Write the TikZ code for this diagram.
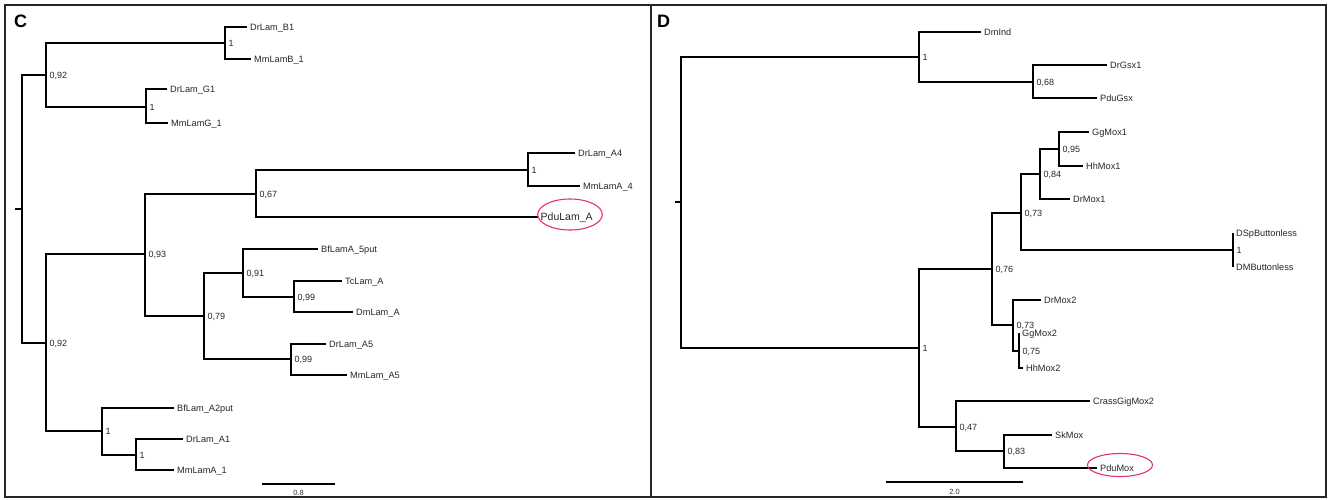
\documentclass[tikz,border=0pt]{standalone}
\usepackage{fontspec}
\setmainfont{Liberation Sans}
\definecolor{hilitecol}{RGB}{228,48,122}
\tikzset{
  branch/.style={line width=2.9pt, line join=miter, black},
  leaf/.style={anchor=west, inner xsep=3pt, inner ysep=0pt, text height=6.4pt, text depth=0pt,
               font=\fontsize{9.2}{10}\selectfont, text=black!85},
  supp/.style={anchor=west, inner xsep=3.4pt, inner ysep=0pt, text height=6.4pt, text depth=0pt,
               font=\fontsize{9}{10}\selectfont, text=black!85},
  frame/.style={line width=1.5pt, black!85},
  panel/.style={anchor=base west, inner sep=0pt, font=\fontsize{18}{20}\selectfont\bfseries},
  hilite/.style={draw=hilitecol, line width=1.1pt},
  scalebar/.style={line width=2.5pt, black},
  scalelab/.style={inner sep=0pt, font=\fontsize{7.5}{8}\selectfont, text=black!80}
}
\begin{document}
\begin{tikzpicture}[x=1pt,y=-1pt]
\useasboundingbox (0,0) rectangle (1333,499);

% panel frames and letters
\draw[frame] (5,5) rectangle (651,497);
\draw[frame] (651,5) rectangle (1326,497);
\node[panel] (labC) at (14,27.5) {C};
\node[panel] (labD) at (657,27.5) {D};

% ---------------- panel C: lamin tree ----------------
\coordinate (cR)  at (22,209);
\coordinate (cRt) at (15,209);
\coordinate (cA)  at (46,75);
\coordinate (cB)  at (225,43);
\coordinate (cG)  at (146,107);
\coordinate (cK)  at (46,343);
\coordinate (cL)  at (145,254);
\coordinate (cM)  at (256,194);
\coordinate (cN)  at (528,170);
\coordinate (cO)  at (204,316);
\coordinate (cP)  at (243,273);
\coordinate (cQ)  at (294,297);
\coordinate (cS)  at (291,359);
\coordinate (cT)  at (102,431);
\coordinate (cU)  at (136,455);

\node[leaf] (drB1)  at (247,27)  {DrLam\_B1};
\node[leaf] (mmB1)  at (251,59)  {MmLamB\_1};
\node[leaf] (drG1)  at (167,89)  {DrLam\_G1};
\node[leaf] (mmG1)  at (168,123) {MmLamG\_1};
\node[leaf] (drA4)  at (575,153) {DrLam\_A4};
\node[leaf] (mmA4)  at (580,186) {MmLamA\_4};
\node[leaf, inner xsep=2.5pt, font=\fontsize{10.5}{12}\selectfont, text height=7.5pt] (pduA) at (538,217) {PduLam\_A};
\node[leaf] (bfA5)  at (318,249) {BfLamA\_5put};
\node[leaf] (tcA)   at (342,281) {TcLam\_A};
\node[leaf] (dmA)   at (353,312) {DmLam\_A};
\node[leaf] (drA5)  at (326,344) {DrLam\_A5};
\node[leaf] (mmA5)  at (347,375) {MmLam\_A5};
\node[leaf] (bfA2)  at (174,408) {BfLam\_A2put};
\node[leaf] (drA1)  at (183,439) {DrLam\_A1};
\node[leaf] (mmA1)  at (174,470) {MmLamA\_1};

\draw[branch] (cR) -- (cRt);
\draw[branch] (cR) |- (cA);
\draw[branch] (cR) |- (cK);
\draw[branch] (cA) |- (cB);
\draw[branch] (cA) |- (cG);
\draw[branch] (cB) |- (drB1.west);
\draw[branch] (cB) |- (mmB1.west);
\draw[branch] (cG) |- (drG1.west);
\draw[branch] (cG) |- (mmG1.west);
\draw[branch] (cK) |- (cL);
\draw[branch] (cK) |- (cT);
\draw[branch] (cL) |- (cM);
\draw[branch] (cL) |- (cO);
\draw[branch] (cM) |- (cN);
\draw[branch] (cM) |- (pduA.west);
\draw[branch] (cN) |- (drA4.west);
\draw[branch] (cN) |- (mmA4.west);
\draw[branch] (cO) |- (cP);
\draw[branch] (cO) |- (cS);
\draw[branch] (cP) |- (bfA5.west);
\draw[branch] (cP) |- (cQ);
\draw[branch] (cQ) |- (tcA.west);
\draw[branch] (cQ) |- (dmA.west);
\draw[branch] (cS) |- (drA5.west);
\draw[branch] (cS) |- (mmA5.west);
\draw[branch] (cT) |- (bfA2.west);
\draw[branch] (cT) |- (cU);
\draw[branch] (cU) |- (drA1.west);
\draw[branch] (cU) |- (mmA1.west);

\node[supp] (sA) at (cA) {0,92};
\node[supp] (sB) at (cB) {1};
\node[supp] (sG) at (cG) {1};
\node[supp] (sK) at (cK) {0,92};
\node[supp] (sL) at (cL) {0,93};
\node[supp] (sM) at (cM) {0,67};
\node[supp] (sN) at (cN) {1};
\node[supp] (sO) at (cO) {0,79};
\node[supp] (sP) at (cP) {0,91};
\node[supp] (sQ) at (cQ) {0,99};
\node[supp] (sS) at (cS) {0,99};
\node[supp] (sT) at (cT) {1};
\node[supp] (sU) at (cU) {1};

\draw[hilite] (570,214.5) ellipse [x radius=32.3, y radius=15.5];

\coordinate (cbarL) at (262,484);
\coordinate (cbarR) at (335,484);
\draw[scalebar] (cbarL) -- (cbarR);
\node[scalelab] (cbarT) at (298.5,493) {0.8};

% ---------------- panel D: homeobox tree ----------------
\coordinate (dR)  at (681,202);
\coordinate (dRt) at (675,202);
\coordinate (dA)  at (919,57);
\coordinate (dB)  at (1033,82);
\coordinate (dC)  at (919,348);
\coordinate (dD)  at (992,269);
\coordinate (dE)  at (1021,213);
\coordinate (dF)  at (1040,174);
\coordinate (dG)  at (1059,149);
\coordinate (dH)  at (1233,250);
\coordinate (dI)  at (1013,325);
\coordinate (dJ)  at (1019,351);
\coordinate (dK)  at (956,427);
\coordinate (dL)  at (1004,451);

\node[leaf] (dmInd)  at (981,32)   {DmInd};
\node[leaf] (drGsx)  at (1107,65)  {DrGsx1};
\node[leaf] (pduGsx) at (1097,98)  {PduGsx};
\node[leaf] (ggMox1) at (1089,132) {GgMox1};
\node[leaf] (hhMox1) at (1083,166) {HhMox1};
\node[leaf] (drMox1) at (1070,199) {DrMox1};
\node[leaf] (dspBl)  at (1233,233) {DSpButtonless};
\node[leaf] (dmBl)   at (1233,267) {DMButtonless};
\node[leaf] (drMox2) at (1041,300) {DrMox2};
\node[leaf] (ggMox2) at (1019,333) {GgMox2};
\node[leaf] (hhMox2) at (1023,368) {HhMox2};
\node[leaf] (crass)  at (1090,401) {CrassGigMox2};
\node[leaf] (skMox)  at (1052,435) {SkMox};
\node[leaf] (pduMox) at (1097,468) {PduMox};

\draw[branch] (dR) -- (dRt);
\draw[branch] (dR) |- (dA);
\draw[branch] (dR) |- (dC);
\draw[branch] (dA) |- (dmInd.west);
\draw[branch] (dA) |- (dB);
\draw[branch] (dB) |- (drGsx.west);
\draw[branch] (dB) |- (pduGsx.west);
\draw[branch] (dC) |- (dD);
\draw[branch] (dC) |- (dK);
\draw[branch] (dD) |- (dE);
\draw[branch] (dD) |- (dI);
\draw[branch] (dE) |- (dF);
\draw[branch] (dE) |- (dH);
\draw[branch] (dF) |- (dG);
\draw[branch] (dF) |- (drMox1.west);
\draw[branch] (dG) |- (ggMox1.west);
\draw[branch] (dG) |- (hhMox1.west);
\draw[branch] (dH) |- (dspBl.west);
\draw[branch] (dH) |- (dmBl.west);
\draw[branch] (dI) |- (drMox2.west);
\draw[branch] (dI) |- (dJ);
\draw[branch] (dJ) |- (ggMox2.west);
\draw[branch] (dJ) |- (hhMox2.west);
\draw[branch] (dK) |- (crass.west);
\draw[branch] (dK) |- (dL);
\draw[branch] (dL) |- (skMox.west);
\draw[branch] (dL) |- (pduMox.west);

\node[supp] (tA) at (dA) {1};
\node[supp] (tB) at (dB) {0,68};
\node[supp] (tC) at (dC) {1};
\node[supp] (tD) at (dD) {0,76};
\node[supp] (tE) at (dE) {0,73};
\node[supp] (tF) at (dF) {0,84};
\node[supp] (tG) at (dG) {0,95};
\node[supp] (tH) at (dH) {1};
\node[supp] (tI) at (dI) {0,73};
\node[supp] (tJ) at (dJ) {0,75};
\node[supp] (tK) at (dK) {0,47};
\node[supp] (tL) at (dL) {0,83};

\draw[hilite] (1120,465) ellipse [x radius=32.5, y radius=11.5];

\coordinate (dbarL) at (886,482);
\coordinate (dbarR) at (1023,482);
\draw[scalebar] (dbarL) -- (dbarR);
\node[scalelab] (dbarT) at (954.5,492) {2.0};
\end{tikzpicture}
\end{document}
